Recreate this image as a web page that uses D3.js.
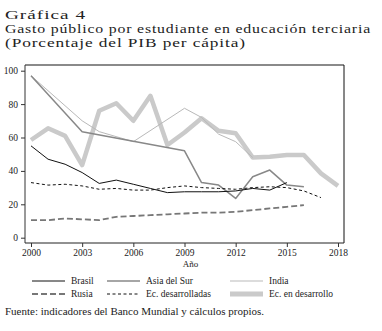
<!DOCTYPE html>
<html>
<head>
<meta charset="utf-8">
<script src="https://cdn.jsdelivr.net/npm/d3@7"></script>
<style>
  html, body { margin: 0; padding: 0; background: #fff; }
  svg { display: block; }
  text { font-family: "Liberation Serif", "DejaVu Serif", serif; fill: #222; }
</style>
</head>
<body>
<svg id="chart" width="382" height="331"></svg>
<script>
// Gasto público por estudiante en educación terciaria (% del PIB per cápita)
const xTicks = [2000, 2003, 2006, 2009, 2012, 2015, 2018];
const yTicks = [0, 20, 40, 60, 80, 100];

const brasil = [[2000,55],[2001,47],[2002,44],[2003,39],[2004,32.5],[2005,34.5],[2006,32],[2007,29.5],[2008,27],[2009,27.5],[2010,27.5],[2011,27.5],[2012,28],[2013,29.5],[2014,28.5],[2015,33]];
const asiaSur = [[2000,97],[2003,63.5],[2009,52],[2010,33],[2011,31.5],[2012,23.5],[2013,36.5],[2014,40.5],[2015,31.5],[2016,30.5]];
const india = [[2000,97],[2003,70],[2004,63.5],[2006,57.5],[2009,77.5],[2010,72],[2011,62],[2012,57.5],[2013,48]];
const rusia = [[2000,10.5],[2001,10.5],[2002,11.5],[2003,11],[2004,10.5],[2005,12.5],[2006,13],[2007,13.5],[2008,14],[2009,14.5],[2010,15],[2011,15],[2012,15.5],[2013,16.5],[2014,17.5],[2015,18.5],[2016,19.5]];
const ecDesarrolladas = [[2000,33],[2001,31.5],[2002,32],[2003,31],[2004,29],[2005,29.5],[2006,28.5],[2007,28.5],[2008,30],[2009,31],[2010,30],[2011,29.5],[2012,29],[2013,30],[2014,30.5],[2015,30],[2016,28],[2017,24]];
const ecEnDesarrollo = [[2000,58.5],[2001,65.5],[2002,61],[2003,43.5],[2004,76],[2005,80.5],[2006,70],[2007,85],[2008,55.5],[2009,63],[2010,71.5],[2011,64],[2012,62.5],[2013,48],[2014,48.5],[2015,49.5],[2016,49.5],[2017,38.5],[2018,31]];

const seriesStyles = [
  { name: "Ec. en desarrollo", data: ecEnDesarrollo, color: "#cacaca", width: 4.5, dash: null },
  { name: "India", data: india, color: "#b9b9b9", width: 1, dash: null },
  { name: "Asia del Sur", data: asiaSur, color: "#888888", width: 1.5, dash: null },
  { name: "Rusia", data: rusia, color: "#777777", width: 1.8, dash: "6,3" },
  { name: "Ec. desarrolladas", data: ecDesarrolladas, color: "#111111", width: 1, dash: "3,2.5" },
  { name: "Brasil", data: brasil, color: "#111111", width: 1, dash: null }
];

const svg = d3.select("#chart");

// Title block, three lines
const titleLines = [
  { text: "Gráfica 4", y: 19, width: 81 },
  { text: "Gasto público por estudiante en educación terciaria", y: 32.7, width: 366 },
  { text: "(Porcentaje del PIB per cápita)", y: 46.5, width: 241 }
];
svg.append("g").selectAll("text").data(titleLines).join("text")
  .attr("x", 5).attr("y", d => d.y)
  .attr("font-size", 13.5)
  .attr("letter-spacing", 0.7)
  .attr("fill", "#333")
  .attr("textLength", d => d.width)
  .attr("lengthAdjust", "spacingAndGlyphs")
  .text(d => d.text);

// Plot frame
const frame = { left: 25, right: 344, top: 65, bottom: 243 };
const x = d3.scaleLinear().domain([2000, 2018]).range([31, 338]);
const y = d3.scaleLinear().domain([0, 100]).range([237.7, 70.7]);

svg.append("line").attr("x1", frame.left).attr("x2", frame.right).attr("y1", frame.top).attr("y2", frame.top)
  .attr("stroke", "#8a8a8a").attr("stroke-width", 2);
svg.append("line").attr("x1", frame.right).attr("x2", frame.right).attr("y1", frame.top).attr("y2", frame.bottom)
  .attr("stroke", "#111").attr("stroke-width", 1);

const yAxis = svg.append("g").attr("transform", `translate(${frame.left},0)`)
  .call(d3.axisLeft(y).tickValues(yTicks).tickSize(4).tickSizeOuter(0));
yAxis.select(".domain").attr("d", `M0,${frame.top}V${frame.bottom}`).attr("stroke", "#333");
yAxis.selectAll("text").attr("font-size", 9.5).attr("font-family", "Liberation Serif, serif").attr("fill", "#222");
yAxis.selectAll(".tick line").attr("stroke", "#333");

const xAxis = svg.append("g").attr("transform", `translate(0,${frame.bottom})`)
  .call(d3.axisBottom(x).tickValues(xTicks).tickFormat(d3.format("d")).tickSize(4).tickSizeOuter(0));
xAxis.select(".domain").attr("d", `M${frame.left},0H${frame.right}`).attr("stroke", "#222");
xAxis.selectAll("text").attr("font-size", 9.5).attr("font-family", "Liberation Serif, serif").attr("fill", "#222").attr("dy", "0.6em");
xAxis.selectAll(".tick line").attr("stroke", "#333");

svg.append("text").attr("x", (frame.left + frame.right) / 2 + 6).attr("y", 267)
  .attr("text-anchor", "middle").attr("font-size", 9).text("Año");

// Series lines
const line = d3.line().x(d => x(d[0])).y(d => y(d[1]));
svg.append("g").selectAll("path").data(seriesStyles).join("path")
  .attr("d", d => line(d.data))
  .attr("fill", "none")
  .attr("stroke", d => d.color)
  .attr("stroke-width", d => d.width)
  .attr("stroke-dasharray", d => d.dash)
  .attr("stroke-linejoin", "round");

// Legend, two rows by three columns
const legendItems = [
  { name: "Brasil", col: 0, row: 0 },
  { name: "Asia del Sur", col: 1, row: 0 },
  { name: "India", col: 2, row: 0 },
  { name: "Rusia", col: 0, row: 1 },
  { name: "Ec. desarrolladas", col: 1, row: 1 },
  { name: "Ec. en desarrollo", col: 2, row: 1 }
];
const colX = [32, 107, 230];
const rowY = [281, 294];
const legend = svg.append("g");
legendItems.forEach(item => {
  const s = seriesStyles.find(d => d.name === item.name);
  const lx = colX[item.col], ly = rowY[item.row];
  legend.append("line").attr("x1", lx).attr("x2", lx + 33).attr("y1", ly).attr("y2", ly)
    .attr("stroke", s.color)
    .attr("stroke-width", s.name === "Ec. en desarrollo" ? 5 : s.width)
    .attr("stroke-dasharray", s.dash);
  legend.append("text").attr("x", lx + 39).attr("y", ly + 3).attr("font-size", 9.5).text(item.name);
});

// Source
svg.append("text").attr("x", 5).attr("y", 315).attr("font-size", 11)
  .text("Fuente: indicadores del Banco Mundial y cálculos propios.");
</script>
</body>
</html>
